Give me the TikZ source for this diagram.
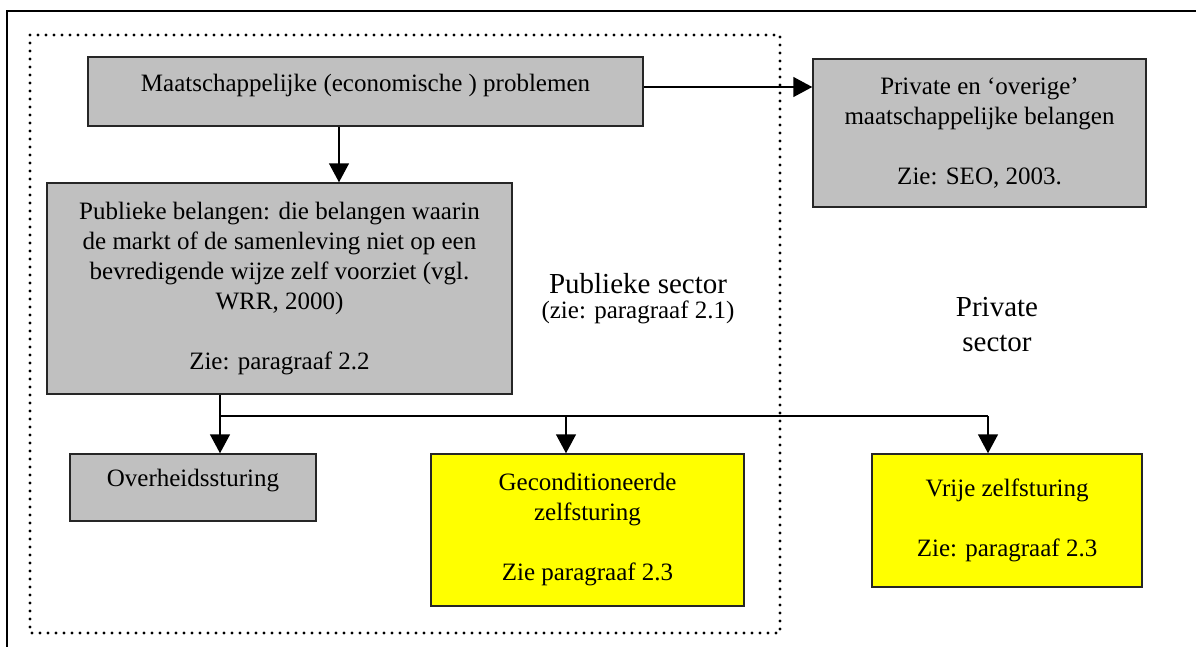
\documentclass[tikz,border=0pt]{standalone}
\usepackage{fontspec}
\setmainfont{Liberation Serif}
\usetikzlibrary{arrows.meta}
\definecolor{boxgrijs}{HTML}{C0C0C0}
\definecolor{boxgeel}{HTML}{FFFF00}

\begin{document}
\begin{tikzpicture}[x=1pt, y=-1pt,
    box/.style = {draw=black!85, line width=1.5pt, align=center, inner sep=0pt, font=\fontsize{25}{30}\selectfont},
    grijs/.style = {box, fill=boxgrijs},
    geel/.style = {box, fill=boxgeel},
    arr/.style = {line width=1.5pt, -{Triangle[length=19pt, width=20pt]}}]
      \useasboundingbox (0,0) rectangle (1196,646);
      \clip (0,0) rectangle (1196,646);

      % kader en publieke sector
      \draw[line width=1.5pt] (7,680) -- (7,11) -- (1230,11);
      \draw[line width=3.4pt, line cap=round, dash pattern=on 0pt off 8pt] (30,35) rectangle (780,633);

      \node[grijs, minimum width=555pt, minimum height=69pt, text depth=18pt] (probl) at (365.5,91.5) {Maatschappelijke (economische ) problemen};
      \node[grijs, minimum width=465pt, minimum height=211pt] (publiek) at (279.5,288.5) {Publieke belangen: die belangen waarin\\de markt of de samenleving niet op een\\bevredigende wijze zelf voorziet (vgl.\\WRR, 2000)\\[30pt]Zie: paragraaf 2.2};
      \node[grijs, minimum width=333pt, minimum height=148pt] (priv) at (979.5,133) {Private en ‘overige’\\maatschappelijke belangen\\[30pt]Zie: SEO, 2003.};
      \node[grijs, minimum width=246pt, minimum height=67pt, text depth=20pt] (overheid) at (193,487.5) {Overheidssturing};
      \node[geel, minimum width=313pt, minimum height=152pt] (gecond) at (587.5,530) {Geconditioneerde\\zelfsturing\\[30pt]Zie paragraaf 2.3};
      \node[geel, minimum width=270pt, minimum height=133pt] (vrije) at (1007,520.5) {Vrije zelfsturing\\[30pt]Zie: paragraaf 2.3};

      \node[font=\fontsize{29}{35}\selectfont, anchor=base] (pubsec) at (638,293) {Publieke sector};
      \node[font=\fontsize{25}{30}\selectfont, anchor=base] (pubref) at (638,318) {(zie: paragraaf 2.1)};
      \node[font=\fontsize{29}{35}\selectfont, align=center] (privsec) at (997,325) {Private\\sector};

      \draw[arr] ([xshift=-26.5pt]probl.south) -- ([xshift=-26.5pt]probl.south |- publiek.north);
      \draw[arr] ([yshift=4.5pt]probl.east) -- ([yshift=4.5pt]probl.east -| priv.west);

      \coordinate (split) at (220,416);
      \coordinate (midsplit) at (566,416);
      \coordinate (rightsplit) at (988,416);
      \draw[line width=1.5pt] (split |- publiek.south) -- (split) -- (rightsplit);
      \draw[arr] (split) -- (split |- overheid.north);
      \draw[arr] (midsplit) -- (midsplit |- gecond.north);
      \draw[arr] (rightsplit) -- (rightsplit |- vrije.north);
    \end{tikzpicture}
\end{document}
